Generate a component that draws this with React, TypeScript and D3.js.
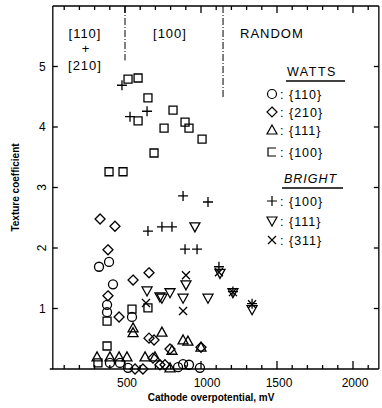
import React from "react";
import * as d3 from "d3";

// values: [cathode overpotential mV, texture coefficient]
const wattsCircle110 = [
  [329, 1.69], [395, 1.77], [421, 1.4], [382, 1.06], [382, 0.94], [546, 0.86],
  [401, 0.1], [467, 0.1], [882, 0.08], [921, 0.07], [993, 0.02], [849, 0.03], [520, 0.02],
];
const wattsDiamond210 = [
  [336, 2.48], [434, 2.36], [388, 1.97], [658, 1.59], [553, 1.47], [388, 1.21],
  [461, 0.86], [658, 0.51], [691, 0.48], [796, 0.33], [1000, 0.36], [566, 0.0],
  [618, 0.0], [730, 0.07], [763, 0.07], [684, 0.18],
];
const wattsTriangle111 = [
  [553, 0.68], [553, 0.6], [743, 0.61], [882, 0.48], [914, 0.46], [1000, 0.36],
  [809, 0.31], [316, 0.2], [401, 0.2], [461, 0.2], [513, 0.2], [632, 0.2],
  [697, 0.2], [796, 0.02],
];
const wattsSquare100 = [
  [520, 4.79], [586, 4.81], [651, 4.48], [586, 4.1], [757, 3.98], [816, 4.28],
  [895, 4.08], [921, 3.98], [1007, 3.8], [691, 3.57], [395, 3.26], [487, 3.26],
  [382, 0.79], [546, 0.99], [651, 1.01], [382, 0.38], [322, 0.1],
];
const brightPlus100 = [
  [480, 4.69], [645, 4.26], [533, 4.17], [882, 2.86], [1046, 2.76], [651, 2.28],
  [743, 2.35], [809, 2.35], [895, 1.98], [974, 1.98], [1118, 1.69], [1210, 1.28],
  [1336, 1.08],
];
const brightTriDown111 = [
  [960, 2.35], [901, 1.39], [743, 1.17], [796, 1.26], [882, 1.17], [1046, 1.17],
  [1125, 1.58], [1210, 1.26], [1336, 0.98], [645, 1.29], [730, 1.19],
];
const brightCross311 = [
  [901, 1.55], [882, 0.96], [638, 1.09], [1118, 1.6], [1210, 1.27], [1336, 1.07],
];

const xTickLabels = [500, 1000, 1500, 2000];
const yTickLabels = [1, 2, 3, 4, 5];
const regionBounds = [500, 1145];

const W = 382, H = 408;
const xMin = 25, xMax = 2170, yMax = 6;
const x = d3.scaleLinear().domain([0, 2000]).range([49, 353]);
const y = d3.scaleLinear().domain([0, 6]).range([369, 6]);

const SYM: Record<string, string> = {
  circle: "M-4.5,0a4.5,4.5 0 1,0 9,0a4.5,4.5 0 1,0 -9,0",
  diamond: "M0,-5L5,0L0,5L-5,0Z",
  triUp: "M0,-5L5,4L-5,4Z",
  square: "M-4,-4H4V4H-4Z",
  bracket: "M4,-4H-4V4H4",
  plus: "M-5,0H5M0,-5V5",
  triDown: "M-5,-4H5L0,5Z",
  cross: "M-4,-4L4,4M4,-4L-4,4",
};

const series = [
  { data: wattsCircle110, sym: "circle" },
  { data: wattsDiamond210, sym: "diamond" },
  { data: wattsTriangle111, sym: "triUp" },
  { data: wattsSquare100, sym: "square" },
  { data: brightPlus100, sym: "plus" },
  { data: brightTriDown111, sym: "triDown" },
  { data: brightCross311, sym: "cross" },
];

const legendWatts = [
  { sym: "circle", label: "{110}" },
  { sym: "diamond", label: "{210}" },
  { sym: "triUp", label: "{111}" },
  { sym: "bracket", label: "{100}" },
];
const legendBright = [
  { sym: "plus", label: "{100}" },
  { sym: "triDown", label: "{111}" },
  { sym: "cross", label: "{311}" },
];

const font = "'Liberation Sans', Arial, sans-serif";

export default function App() {
  const minor = d3.range(100, 2200, 100).filter((v) => v < xMax);
  const x0 = x(xMin), x1 = x(xMax), yTop = y(yMax), yBot = y(0);

  return (
    <svg width={W} height={H} style={{ position: "absolute", left: 0, top: 0, background: "#fff" }}
      fontFamily={font}>
      {/* frame */}
      <g stroke="#000" strokeWidth={1.3} fill="none">
        <line x1={x0} x2={x0} y1={yTop} y2={yBot} />
        <line x1={x0 - 3} x2={x1} y1={yBot} y2={yBot} />
        <line x1={x0} x2={x1} y1={yTop} y2={yTop} />
        <line x1={x1} x2={x1} y1={yTop} y2={yBot} />
        {minor.map((v) => (
          <g key={v}>
            <line x1={x(v)} x2={x(v)} y1={yBot} y2={yBot - (v % 500 === 0 ? 8 : 4)} />
            <line x1={x(v)} x2={x(v)} y1={yTop} y2={yTop + (v % 500 === 0 ? 7 : 4)} />
          </g>
        ))}
        {yTickLabels.map((v) => (
          <g key={v}>
            <line x1={x0} x2={x0 + 5} y1={y(v)} y2={y(v)} />
            <line x1={x1} x2={x1 - 5} y1={y(v)} y2={y(v)} />
          </g>
        ))}
        {/* region boundaries */}
        <line x1={x(regionBounds[0])} x2={x(regionBounds[0])} y1={yTop} y2={y(5.1)}
          strokeDasharray="7,2,1,2" strokeWidth={1} />
        <line x1={x(regionBounds[1])} x2={x(regionBounds[1])} y1={yTop} y2={y(4.47)}
          strokeDasharray="7,2,1,2" strokeWidth={1} />
      </g>

      {/* tick labels */}
      <g fontSize={12} fill="#000">
        {xTickLabels.map((v) => (
          <text key={v} x={x(v) + (v === 1000 ? 6 : 2)} y={387} textAnchor="middle">{v}</text>
        ))}
        {yTickLabels.map((v) =>
          v === 2 || v === 3 ? (
            <text key={v} transform={`translate(${x0 - 7},${y(v)}) rotate(-90)`} textAnchor="middle">{v}</text>
          ) : (
            <text key={v} x={x0 - 7} y={y(v) + 4} textAnchor="end">{v}</text>
          )
        )}
      </g>

      {/* axis titles */}
      <text transform={`translate(19,${y(3)}) rotate(-90)`} textAnchor="middle" fontSize={10}
        fontWeight="bold">Texture coefficient</text>
      <text x={211} y={401} textAnchor="middle" fontSize={10} fontWeight="bold">
        Cathode overpotential, mV
      </text>

      {/* region labels */}
      <g fontSize={13} letterSpacing={1} fill="#000">
        <text x={85} y={38} textAnchor="middle">[110]</text>
        <text x={86} y={53} textAnchor="middle">+</text>
        <text x={85} y={70} textAnchor="middle">[210]</text>
        <text x={170} y={38} textAnchor="middle">[100]</text>
        <text x={240} y={38}>RANDOM</text>
      </g>

      {/* legend */}
      <g fontSize={12.5} fill="#000">
        <text x={287} y={76} letterSpacing={1.5}>WATTS</text>
        <line x1={286} x2={345} y1={81} y2={81} stroke="#000" strokeWidth={1.3} />
        {legendWatts.map((d, i) => {
          const ly = [94, 112, 130, 152][i];
          return (
            <g key={i}>
              <path d={SYM[d.sym]} transform={`translate(272,${ly})`} fill="none" stroke="#000" strokeWidth={1.2} />
              <text x={280} y={ly + 4.5} letterSpacing={1}>: {d.label}</text>
            </g>
          );
        })}
        <text x={284} y={183} fontStyle="italic" letterSpacing={1}>BRIGHT</text>
        <line x1={282} x2={343} y1={188} y2={188} stroke="#000" strokeWidth={1.3} />
        {legendBright.map((d, i) => {
          const ly = [201, 221, 240][i];
          return (
            <g key={i}>
              <path d={SYM[d.sym]} transform={`translate(272,${ly})`} fill="none" stroke="#000" strokeWidth={1.2} />
              <text x={280} y={ly + 4.5} letterSpacing={1}>: {d.label}</text>
            </g>
          );
        })}
      </g>

      {/* points */}
      <g fill="none" stroke="#000" strokeWidth={1.3}>
        {series.map((s) =>
          s.data.map(([mv, tc], i) => (
            <path key={s.sym + i} d={SYM[s.sym]} transform={`translate(${x(mv)},${y(tc)})`} />
          ))
        )}
      </g>
    </svg>
  );
}
